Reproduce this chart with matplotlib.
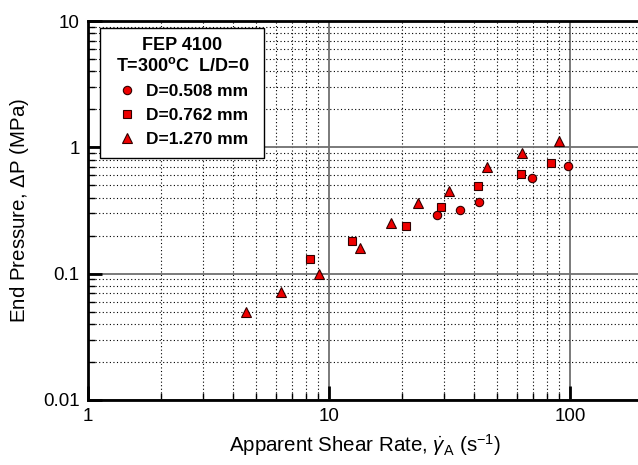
import matplotlib
matplotlib.use("Agg")
import matplotlib.pyplot as plt
from matplotlib.lines import Line2D
from matplotlib.patches import Rectangle
from matplotlib.ticker import LogLocator, NullFormatter, FixedLocator, FixedFormatter

plt.rcParams['font.family'] = ['Liberation Sans', 'DejaVu Sans']
plt.rcParams['mathtext.fontset'] = 'custom'
plt.rcParams['mathtext.rm'] = 'Liberation Sans'
plt.rcParams['mathtext.it'] = 'Liberation Sans:italic'
plt.rcParams['mathtext.bf'] = 'Liberation Sans:bold'

# Shear rate (1/s) and end pressure (MPa) for each die diameter
rate_d0508 = [28.1, 35.0, 42.0, 69.8, 97.8]
dp_d0508 = [0.29, 0.32, 0.37, 0.57, 0.71]

rate_d0762 = [8.36, 12.5, 20.9, 29.2, 41.6, 62.6, 83.4]
dp_d0762 = [0.13, 0.18, 0.24, 0.34, 0.49, 0.61, 0.75]

rate_d1270 = [4.53, 6.32, 9.06, 13.5, 18.0, 23.5, 31.6, 45.1, 63.0, 90.0]
dp_d1270 = [0.050, 0.071, 0.100, 0.16, 0.25, 0.36, 0.45, 0.70, 0.90, 1.13]

labels = ['D=0.508 mm', 'D=0.762 mm', 'D=1.270 mm']
x_ticks = [1, 10, 100]
x_ticklabels = ['1', '10', '100']
y_ticks = [0.01, 0.1, 1, 10]
y_ticklabels = ['0.01', '0.1', '1', '10']

W, H = 638, 465
fig = plt.figure(figsize=(W / 100, H / 100), dpi=100)
ax = fig.add_axes([0.1379, 0.1398, 0.8693, 0.815])
ax.set_xscale('log')
ax.set_yscale('log')
ax.set_xlim(1, 200)
ax.set_ylim(0.01, 10)

# grid: solid grey at decades, dotted black at minor ticks
ax.grid(which='major', color='#707070', linestyle='-', linewidth=1.3, zorder=1)
ax.grid(which='minor', color='black', linestyle=(0, (1, 2.2)), linewidth=0.8, zorder=1)
ax.set_axisbelow(True)

mk = dict(color='#ee0000', markeredgecolor='#300000', markeredgewidth=0.8,
          linestyle='none', zorder=3)
ax.plot(rate_d0508, dp_d0508, marker='o', markersize=6, **mk)
ax.plot(rate_d0762, dp_d0762, marker='s', markersize=6, **mk)
ax.plot(rate_d1270, dp_d1270, marker='^', markersize=7.5, **mk)

ax.xaxis.set_major_locator(FixedLocator(x_ticks))
ax.xaxis.set_major_formatter(FixedFormatter(x_ticklabels))
ax.yaxis.set_major_locator(FixedLocator(y_ticks))
ax.yaxis.set_major_formatter(FixedFormatter(y_ticklabels))
ax.xaxis.set_minor_locator(LogLocator(base=10, subs=range(2, 10)))
ax.yaxis.set_minor_locator(LogLocator(base=10, subs=range(2, 10)))
ax.xaxis.set_minor_formatter(NullFormatter())
ax.yaxis.set_minor_formatter(NullFormatter())
ax.tick_params(which='major', direction='in', length=10, width=2, labelsize=13.5, pad=6)
ax.tick_params(which='minor', direction='in', length=5, width=1)
ax.tick_params(top=False, right=False, which='both')

for side in ['left', 'bottom', 'top']:
    ax.spines[side].set_linewidth(2)
ax.spines['right'].set_visible(False)

ax.set_xlabel(r'Apparent Shear Rate, $\dot{\gamma}_\mathrm{A}$ (s$^{-1}$)', fontsize=14.8, labelpad=5)
ax.set_ylabel(r'End Pressure, $\Delta$P (MPa)', fontsize=14.8, labelpad=9)

# legend box drawn separately so its padding can differ per side
box = Rectangle((100 / W, 1 - 158 / H), 164 / W, 130 / H, transform=fig.transFigure,
                facecolor='white', edgecolor='black', linewidth=1.0, zorder=4, clip_on=False)
ax.add_patch(box)

handles = [
    Line2D([], [], marker='o', markersize=6, **mk),
    Line2D([], [], marker='s', markersize=6, **mk),
    Line2D([], [], marker='^', markersize=7.5, **mk),
]
leg = ax.legend(handles, labels, loc='upper left',
                bbox_to_anchor=(115.6 / W, 1 - 37 / H), bbox_transform=fig.transFigure,
                title='FEP 4100\nT=300$^{\\mathbf{o}}$C  L/D=0',
                title_fontproperties={'weight': 'bold', 'size': 13},
                prop={'weight': 'bold', 'size': 12.5},
                frameon=False, handlelength=1.2, handletextpad=0.5, labelspacing=0.52,
                borderpad=0, borderaxespad=0)
leg.get_title().set_multialignment('center')
leg.set_zorder(5)

fig.savefig('out.png', dpi=100)
